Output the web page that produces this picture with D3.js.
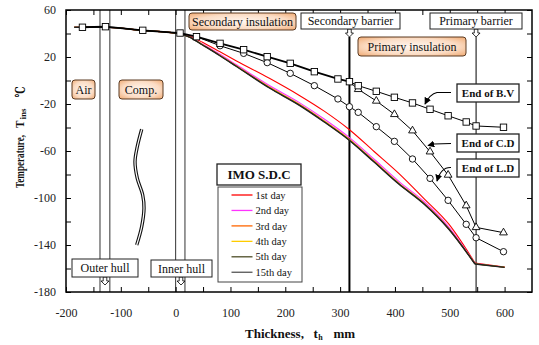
<!DOCTYPE html>
<html>
<head>
<meta charset="utf-8">
<script src="https://cdn.jsdelivr.net/npm/d3@7"></script>
<style>
  body { margin: 0; background: #fff; }
  svg { display: block; }
  svg text { font-family: "Liberation Serif", "Times New Roman", Tinos, "DejaVu Serif", serif; }
</style>
</head>
<body>
<svg id="chart" width="539" height="345"></svg>
<script>
// tick labels
const xMajor = [-200, -100, 0, 100, 200, 300, 400, 500, 600];
const xMinor = [-150, -50, 50, 150, 250, 350, 450, 550];
const yMajor = [60, 20, -20, -60, -100, -140, -180];
const yMinor = [40, 0, -40, -80, -120, -160];

// IMO S.D.C curves (thickness mm -> temperature)
const dayX = [-185, -128, -60, 0, 25, 49, 80, 111, 171, 225, 271, 316, 362, 407, 453, 498, 546, 600];
const day1 = [45.3, 45.3, 42.6, 40.3, 37.9, 32.5, 24.6, 16.6, 1.9, -12.5, -26.1, -41.5, -60.4, -79, -100.5, -122.1, -155.3, -158.7];
const day2 = [45.3, 45.3, 42.6, 40.3, 37.3, 31.0, 22.5, 13.4, -4.3, -18.6, -32.8, -48.2, -67, -85.8, -103, -124.6, -155.8, -159];
const day3 = [45.3, 45.3, 42.6, 40.3, 37.1, 30.5, 21.8, 12.5, -5.6, -20.0, -34.4, -49.7, -68.5, -87.3, -104.4, -125.8, -156, -159];
const day4 = [45.3, 45.3, 42.6, 40.3, 37.1, 30.4, 21.6, 12.2, -5.9, -20.3, -34.7, -50.0, -68.8, -87.6, -104.6, -126, -156, -159];
const day5 = [45.3, 45.3, 42.6, 40.3, 37.0, 30.3, 21.4, 12.0, -6.2, -20.7, -35.1, -50.4, -69.2, -87.9, -104.9, -126.2, -156.1, -159];
const day15 = [45.3, 45.3, 42.6, 40.3, 37.0, 30.2, 21.3, 11.9, -6.4, -20.9, -35.3, -50.6, -69.4, -88.1, -105.1, -126.4, -156.2, -159];
const dayNames = ['1st day', '2nd day', '3rd day', '4th day', '5th day', '15th day'];
const dayColors = ['#ff0000', '#ff33ff', '#ff6600', '#ffcc00', '#4d4d26', '#222222'];

// end of B.V (squares), end of C.D (triangles), end of L.D (circles)
const bvX = [-170, -128, -60, 8, 38, 81, 124, 167, 209, 253, 296, 317, 333, 366, 399, 432, 464, 497, 530, 548, 598];
const bvT = [45.3, 45.8, 42.7, 40.4, 37.3, 31.6, 26.2, 20.3, 14.6, 7.5, 1.3, -1, -4.4, -9.2, -14.3, -19.1, -24.5, -30, -35.3, -38.7, -39.8];
const cdX = [317, 333, 366, 399, 432, 464, 497, 530, 548, 598];
const cdT = [-1, -7.5, -17.4, -28.8, -42.7, -60.6, -80.4, -106.5, -125, -129.5];
const ldX = [38, 81, 124, 167, 209, 253, 296, 317, 333, 366, 399, 432, 464, 497, 530, 548, 598];
const ldT = [37.3, 29.6, 23.1, 15.2, 6.1, -4.4, -15.7, -22.3, -27.1, -39.3, -51.8, -66.8, -83.3, -102, -122.4, -133.8, -145.7];

// layer boundaries (mm)
const hullX = [-138, -120, 0, 17];
const secBarrierX = 317;
const priBarrierX = 548;

const svg = d3.select('#chart');
const x = d3.scaleLinear().domain([-200, 650]).range([66, 532]);
const y = d3.scaleLinear().domain([-180, 60]).range([292, 10]);

const defs = svg.append('defs');
const grad = defs.append('radialGradient').attr('id', 'peach').attr('r', '70%');
grad.append('stop').attr('offset', '0%').attr('stop-color', '#fff6ef');
grad.append('stop').attr('offset', '60%').attr('stop-color', '#fbdcc4');
grad.append('stop').attr('offset', '100%').attr('stop-color', '#f0a971');
defs.append('marker').attr('id', 'head')
  .attr('viewBox', '0 0 10 10').attr('refX', 9).attr('refY', 5)
  .attr('markerWidth', 7).attr('markerHeight', 7).attr('orient', 'auto')
  .attr('markerUnits', 'userSpaceOnUse')
  .append('path').attr('d', 'M0,0 L10,5 L0,10 Z').attr('fill', '#000');

// hull lines
svg.selectAll('.hull').data(hullX).enter().append('line')
  .attr('x1', d => x(d)).attr('x2', d => x(d))
  .attr('y1', y(60)).attr('y2', y(-180))
  .attr('stroke', '#333').attr('stroke-width', 1);

// barrier lines
svg.append('line').attr('x1', x(secBarrierX)).attr('x2', x(secBarrierX))
  .attr('y1', 37).attr('y2', y(-180)).attr('stroke', '#000').attr('stroke-width', 2);
svg.append('line').attr('x1', x(priBarrierX)).attr('x2', x(priBarrierX))
  .attr('y1', 37).attr('y2', y(-180)).attr('stroke', '#000').attr('stroke-width', 1);

// wave symbol (compressed section)
const wave = [[141.7, 129.3], [137.3, 146.7], [135, 161.7], [137.3, 178.3], [142.7, 195], [144, 208.3], [141.7, 226.7], [136.7, 245]];
const waveLine = d3.line().curve(d3.curveCatmullRom);
svg.append('path').attr('d', waveLine(wave)).attr('fill', 'none').attr('stroke', '#111').attr('stroke-width', 3.4);
svg.append('path').attr('d', waveLine(wave)).attr('fill', 'none').attr('stroke', '#fff').attr('stroke-width', 1.2);

// day curves
const days = [day1, day2, day3, day4, day5, day15];
const smooth = d3.line().x((d, i) => x(dayX[i])).y(d => y(d)).curve(d3.curveMonotoneX);
days.forEach((vals, k) => {
  const n = vals.length;
  svg.append('path').attr('d', smooth(vals.slice(0, n - 1)))
    .attr('fill', 'none').attr('stroke', dayColors[k]).attr('stroke-width', k === 5 ? 1.4 : 1.1);
  svg.append('path').attr('d', d3.line()([[x(dayX[n - 2]), y(vals[n - 2])], [x(dayX[n - 1]), y(vals[n - 1])]]))
    .attr('fill', 'none').attr('stroke', dayColors[k]).attr('stroke-width', k === 5 ? 1.4 : 1.1);
});

// marker series lines
const lin = (xs, ts) => d3.line()(xs.map((v, i) => [x(v), y(ts[i])]));
svg.append('path').attr('d', lin(ldX, ldT)).attr('fill', 'none').attr('stroke', '#000').attr('stroke-width', 1);
svg.append('path').attr('d', lin(cdX, cdT)).attr('fill', 'none').attr('stroke', '#000').attr('stroke-width', 1);
const bvSplit = bvX.indexOf(317);
svg.append('path').attr('d', lin(bvX.slice(0, bvSplit + 1), bvT.slice(0, bvSplit + 1)))
  .attr('fill', 'none').attr('stroke', '#000').attr('stroke-width', 1.8);
svg.append('path').attr('d', lin(bvX.slice(bvSplit), bvT.slice(bvSplit)))
  .attr('fill', 'none').attr('stroke', '#000').attr('stroke-width', 1);

// markers
svg.selectAll('.ld').data(ldX.slice(1)).enter().append('circle')
  .attr('cx', d => x(d)).attr('cy', (d, i) => y(ldT[i + 1])).attr('r', 3.2)
  .attr('fill', '#fff').attr('stroke', '#000').attr('stroke-width', 0.9);
const tri = d3.symbol().type(d3.symbolTriangle).size(26);
svg.selectAll('.cd').data(cdX.slice(1)).enter().append('path')
  .attr('d', tri).attr('transform', (d, i) => `translate(${x(d)},${y(cdT[i + 1])})`)
  .attr('fill', '#fff').attr('stroke', '#000').attr('stroke-width', 0.9);
svg.selectAll('.bv').data(bvX).enter().append('rect')
  .attr('x', d => x(d) - 3.2).attr('y', (d, i) => y(bvT[i]) - 3.2)
  .attr('width', 6.4).attr('height', 6.4)
  .attr('fill', '#fff').attr('stroke', '#000').attr('stroke-width', 0.9);

// axes: inward ticks on all four sides
const xAll = xMajor.concat(xMinor);
const yAll = yMajor.concat(yMinor);
const fmt = d => String(d);
svg.append('g').attr('transform', `translate(0,${y(-180)})`)
  .call(d3.axisBottom(x).tickValues(xAll).tickFormat(d => xMajor.includes(d) ? fmt(d) : '')
    .tickSizeInner(-5).tickSizeOuter(0).tickPadding(16));
svg.append('g').attr('transform', `translate(${x(-200)},0)`)
  .call(d3.axisLeft(y).tickValues(yAll).tickFormat(d => yMajor.includes(d) ? fmt(d) : '')
    .tickSizeInner(-5).tickSizeOuter(0).tickPadding(10));
svg.append('g').attr('transform', `translate(0,${y(60)})`)
  .call(d3.axisTop(x).tickValues(xAll).tickFormat('').tickSizeInner(-5).tickSizeOuter(0));
svg.append('g').attr('transform', `translate(${x(650)},0)`)
  .call(d3.axisRight(y).tickValues(yAll).tickFormat('').tickSizeInner(-5).tickSizeOuter(0));
svg.selectAll('.domain').remove();
svg.selectAll('.tick line').attr('stroke', '#000').attr('stroke-width', 1);
svg.selectAll('.tick text').attr('font-size', 12).attr('fill', '#222');

svg.append('rect').attr('x', x(-200)).attr('y', y(60))
  .attr('width', x(650) - x(-200)).attr('height', y(-180) - y(60))
  .attr('fill', 'none').attr('stroke', '#000').attr('stroke-width', 1.5);

// hollow down arrows under labels
const hollow = (cx, top) => `M${cx - 1.8},${top} L${cx - 1.8},${top + 4} L${cx - 4},${top + 4} L${cx},${top + 8} L${cx + 4},${top + 4} L${cx + 1.8},${top + 4} L${cx + 1.8},${top} Z`;
[[x(secBarrierX), 29], [x(priBarrierX), 29], [105, 277], [181, 277]].forEach(([cx, t]) => {
  svg.append('path').attr('d', hollow(cx, t)).attr('fill', '#fff').attr('stroke', '#000').attr('stroke-width', 0.8);
});

// label boxes
const boxes = [
  { t: 'Air', x: 72, y: 80, w: 23, h: 19, peach: true },
  { t: 'Comp.', x: 119, y: 80, w: 44, h: 19, peach: true },
  { t: 'Secondary insulation', x: 189, y: 13, w: 107, h: 17, peach: true },
  { t: 'Secondary barrier', x: 301, y: 13, w: 99, h: 16 },
  { t: 'Primary insulation', x: 358, y: 37, w: 108, h: 19, peach: true },
  { t: 'Primary barrier', x: 430, y: 13, w: 92, h: 16 },
  { t: 'Outer hull', x: 72, y: 259, w: 66, h: 18 },
  { t: 'Inner hull', x: 151, y: 260, w: 61, h: 17 },
  { t: 'End of B.V', x: 457, y: 84, w: 62, h: 18, bold: true, fs: 11 },
  { t: 'End of C.D', x: 457, y: 134, w: 62, h: 18, bold: true, fs: 11 },
  { t: 'End of L.D', x: 457, y: 159, w: 62, h: 18, bold: true, fs: 11 },
  { t: 'IMO S.D.C', x: 217, y: 164, w: 84, h: 21, bold: true, fs: 13 }
];
boxes.forEach(b => {
  svg.append('rect').attr('x', b.x).attr('y', b.y).attr('width', b.w).attr('height', b.h)
    .attr('rx', b.peach ? 3 : 0)
    .attr('fill', b.peach ? 'url(#peach)' : '#fff')
    .attr('stroke', b.peach ? '#5a3a22' : '#222').attr('stroke-width', b.bold ? 1.3 : 1);
  svg.append('text').attr('x', b.x + b.w / 2).attr('y', b.y + b.h / 2 + 4)
    .attr('text-anchor', 'middle').attr('font-size', b.fs || 12)
    .attr('font-weight', b.bold ? 'bold' : 'normal').attr('fill', '#111').text(b.t);
});

// pointer arrows to series ends
[
  'M451,92.5 L437,92.5 Q430,94 425,104',
  'M451,143.5 L434,144 L428,145.5',
  'M451,167.5 Q441,167 437,181'
].forEach(d => {
  svg.append('path').attr('d', d).attr('fill', 'none').attr('stroke', '#000')
    .attr('stroke-width', 1.1).attr('marker-end', 'url(#head)');
});

// legend
svg.append('rect').attr('x', 218).attr('y', 187).attr('width', 84).attr('height', 95)
  .attr('fill', '#fff').attr('stroke', '#444').attr('stroke-width', 1);
dayNames.forEach((nm, i) => {
  const ly = 195 + i * 15.45;
  svg.append('line').attr('x1', 231.5).attr('x2', 252.5).attr('y1', ly).attr('y2', ly)
    .attr('stroke', i === 5 ? '#555' : dayColors[i]).attr('stroke-width', 1.3);
  svg.append('text').attr('x', 255.5).attr('y', ly + 3.6).attr('font-size', 10.5)
    .attr('fill', '#111').text(nm);
});

// axis titles
const xt = svg.append('g').attr('font-weight', 'bold').attr('fill', '#111');
xt.append('text').attr('x', 245).attr('y', 338).attr('font-size', 13).text('Thickness,');
xt.append('text').attr('x', 313.5).attr('y', 338).attr('font-size', 13).text('t');
xt.append('text').attr('x', 318.3).attr('y', 339.5).attr('font-size', 8).text('h');
xt.append('text').attr('x', 333.5).attr('y', 338).attr('font-size', 13).text('mm');

const yt = svg.append('g').attr('font-weight', 'bold').attr('fill', '#111');
yt.append('text').attr('transform', 'translate(24,161.5) rotate(-90)').attr('text-anchor', 'middle')
  .attr('font-size', 13).attr('textLength', 53).attr('lengthAdjust', 'spacingAndGlyphs').text('Temperature,');
yt.append('text').attr('transform', 'translate(24,128) rotate(-90)')
  .attr('font-size', 13).attr('textLength', 7.5).attr('lengthAdjust', 'spacingAndGlyphs').text('T');
yt.append('text').attr('transform', 'translate(25.5,119.5) rotate(-90)')
  .attr('font-size', 8.5).attr('textLength', 11).attr('lengthAdjust', 'spacingAndGlyphs').text('ins');
yt.append('text').attr('transform', 'translate(25,97.5) rotate(-90)')
  .attr('font-size', 14).attr('textLength', 11).attr('lengthAdjust', 'spacingAndGlyphs').text('℃');
</script>
</body>
</html>
